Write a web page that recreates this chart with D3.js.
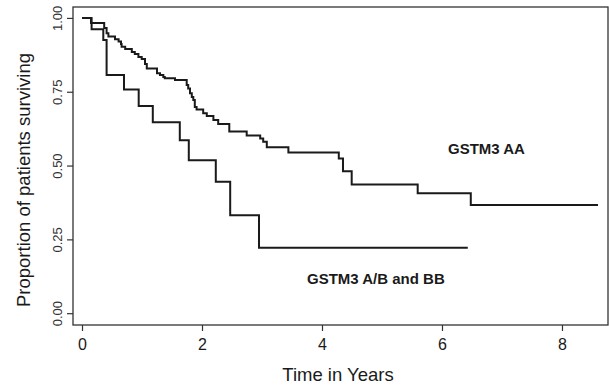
<!DOCTYPE html>
<html>
<head>
<meta charset="utf-8">
<script src="https://cdn.jsdelivr.net/npm/d3@7/dist/d3.min.js"></script>
<style>
  html, body { margin: 0; padding: 0; background: #fff; }
  svg { display: block; font-family: "Liberation Sans", Arial, Helvetica, sans-serif; }
</style>
</head>
<body>
<svg id="chart" width="609" height="386"></svg>
<script>
// ── Data: Kaplan-Meier steps (time in years, proportion surviving) ──
const aaTime = [0, 0.15, 0.37, 0.41, 0.44, 0.55, 0.61, 0.65, 0.66, 0.72, 0.83, 0.88, 0.94, 0.995,
  1.05, 1.08, 1.25, 1.30, 1.355, 1.38, 1.55, 1.745, 1.77, 1.80, 1.83, 1.855, 1.88, 1.91,
  2.02, 2.08, 2.19, 2.27, 2.455, 2.745, 2.97, 3.02, 3.08, 3.44, 4.28, 4.35, 4.495,
  5.595, 6.48, 8.6];
const aaSurv = [1.0, 0.983, 0.966, 0.948, 0.937, 0.928, 0.920, 0.912, 0.902, 0.895, 0.885, 0.878, 0.868, 0.861,
  0.844, 0.829, 0.813, 0.807, 0.800, 0.796, 0.790, 0.773, 0.761, 0.745, 0.732, 0.722, 0.698, 0.690,
  0.677, 0.668, 0.654, 0.641, 0.615, 0.602, 0.592, 0.581, 0.562, 0.544, 0.524, 0.481, 0.436,
  0.406, 0.366, 0.366];

const abTime = [0, 0.16, 0.355, 0.41, 0.70, 0.945, 1.18, 1.63, 1.78, 2.23, 2.47, 2.95, 6.43];
const abSurv = [1.0, 0.962, 0.925, 0.807, 0.758, 0.702, 0.647, 0.586, 0.518, 0.445, 0.332, 0.222, 0.222];

const xTicks = [0, 2, 4, 6, 8];
const yTicks = [0, 0.25, 0.5, 0.75, 1.0];

const labels = [
  { text: 'GSTM3 AA', t: 6.1, s: 0.54 },
  { text: 'GSTM3 A/B and BB', t: 3.75, s: 0.10 }
];

// ── Layout ──
const svg = d3.select('#chart');
const box = { left: 73, right: 608, top: 7, bottom: 325 };

const x = d3.scaleLinear().domain([-0.15, 8.767]).range([box.left, box.right]);
const y = d3.scaleLinear().domain([-0.04, 1.037]).range([box.bottom, box.top]);

const ink = '#1a1a1a';

// Frame
svg.append('rect')
  .attr('x', box.left).attr('y', box.top)
  .attr('width', box.right - box.left).attr('height', box.bottom - box.top)
  .attr('fill', 'none').attr('stroke', '#333').attr('stroke-width', 1.3);

// X axis
const xAxis = svg.append('g')
  .attr('transform', 'translate(0,' + box.bottom + ')')
  .call(d3.axisBottom(x).tickValues(xTicks).tickSize(6).tickPadding(8).tickFormat(d3.format('d')));
xAxis.select('.domain').remove();
xAxis.selectAll('line').attr('stroke', '#333').attr('stroke-width', 1.2);
xAxis.selectAll('text').attr('font-size', '16px').attr('fill', ink)
  .attr('font-family', '"Liberation Sans", Arial, sans-serif');

// Y axis (rotated tick labels)
const yAxis = svg.append('g')
  .attr('transform', 'translate(' + box.left + ',0)')
  .call(d3.axisLeft(y).tickValues(yTicks).tickSize(6).tickFormat(d3.format('.2f')));
yAxis.select('.domain').remove();
yAxis.selectAll('line').attr('stroke', '#333').attr('stroke-width', 1.2);
yAxis.selectAll('text')
  .attr('font-size', '13px').attr('fill', '#333')
  .attr('font-family', '"Liberation Sans", Arial, sans-serif')
  .attr('x', null).attr('dy', null)
  .attr('text-anchor', 'middle')
  .attr('transform', 'translate(-11,0) rotate(-90)');

// Axis titles
svg.append('text')
  .attr('x', 338).attr('y', 381)
  .attr('text-anchor', 'middle')
  .attr('font-size', '18.5px').attr('fill', ink)
  .text('Time in Years');

svg.append('text')
  .attr('transform', 'translate(30,180) rotate(-90)')
  .attr('text-anchor', 'middle')
  .attr('font-size', '18.5px').attr('fill', ink)
  .text('Proportion of patients surviving');

// Survival curves
const line = d3.line()
  .x(d => x(d[0])).y(d => y(d[1]))
  .curve(d3.curveStepAfter);

[[aaTime, aaSurv], [abTime, abSurv]].forEach(([ts, ss]) => {
  svg.append('path')
    .datum(ts.map((t, i) => [t, ss[i]]))
    .attr('d', line)
    .attr('fill', 'none').attr('stroke', ink).attr('stroke-width', 2);
});

// Group labels
labels.forEach(l => {
  svg.append('text')
    .attr('x', x(l.t)).attr('y', y(l.s))
    .attr('font-size', '15px').attr('font-weight', 'bold').attr('fill', ink)
    .text(l.text);
});
</script>
</body>
</html>
